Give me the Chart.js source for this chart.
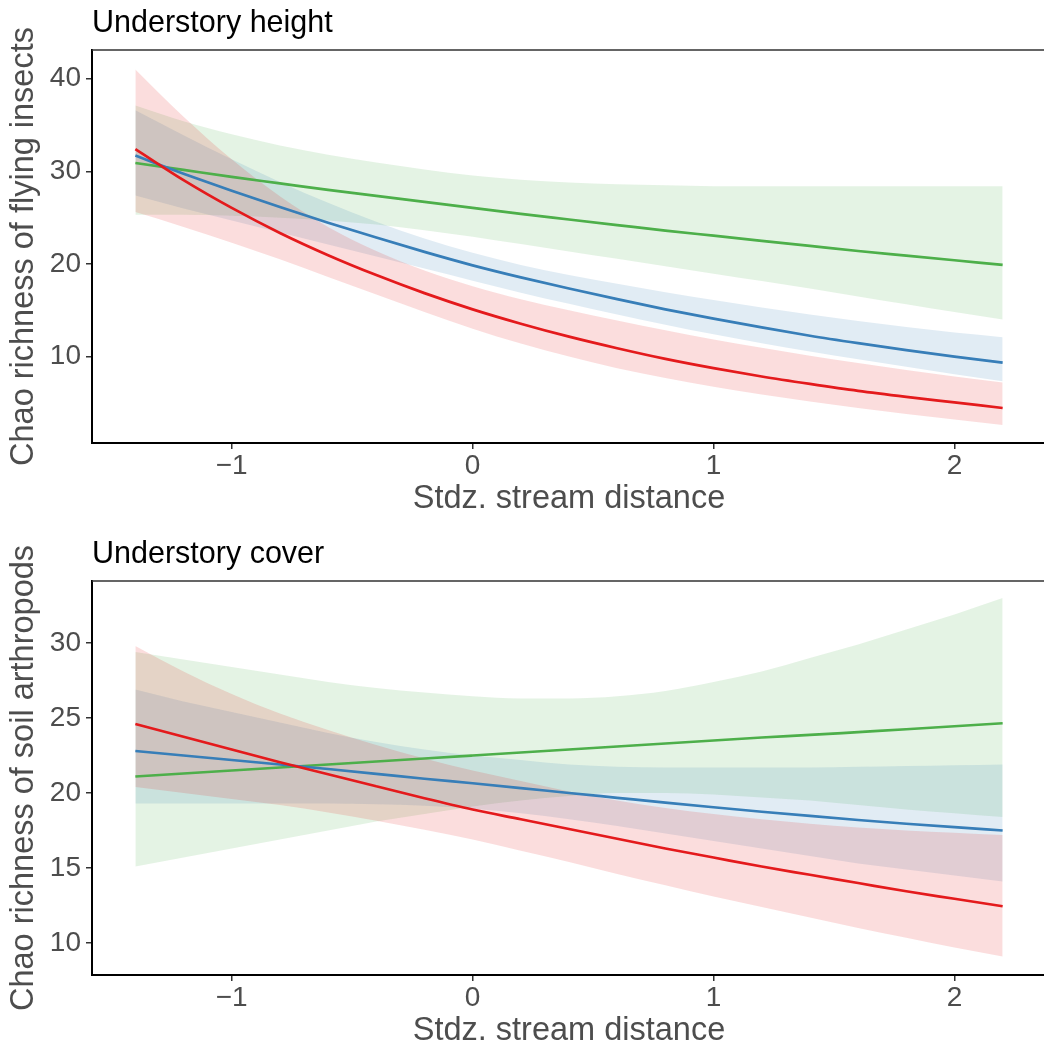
<!DOCTYPE html>
<html><head><meta charset="utf-8">
<script src="https://cdn.jsdelivr.net/npm/chart.js@4.4.1/dist/chart.umd.min.js"></script>
<style>
html,body{margin:0;padding:0;background:#fff;overflow:hidden;width:1044px;height:1052px;position:relative;}
#c1{position:absolute;left:0;top:0;}
#c2{position:absolute;left:0;top:530px;}
</style></head><body>
<canvas id="c1" width="1050" height="520"></canvas>
<canvas id="c2" width="1050" height="522"></canvas>
<script>
// ---- data ----
const xs = [-1.4,-1.2,-1.0,-0.8,-0.6,-0.4,-0.2,0,0.2,0.4,0.6,0.8,1.0,1.2,1.4,1.6,1.8,2.0,2.2];
const xTicks = [-1, 0, 1, 2];

// Panel 1: Understory height — flying insects
const yTicks1 = [10, 20, 30, 40];
const redMean1  = [32.4,29.05,26.05,23.35,20.95,18.8,16.85,15.1,13.55,12.15,10.9,9.75,8.75,7.85,7.05,6.3,5.65,5.05,4.45];
const redUp1    = [41.0,35.9,31.3,27.3,24.0,21.4,19.3,17.6,16.2,15.0,13.9,12.85,11.85,10.95,10.1,9.3,8.55,7.85,7.2];
const redLo1    = [25.6,24.0,22.3,20.5,18.6,16.7,14.8,13.0,11.4,10.0,8.75,7.7,6.75,5.9,5.15,4.45,3.8,3.2,2.6];
const blueMean1 = [31.7,29.75,27.9,26.15,24.45,22.85,21.3,19.85,18.55,17.35,16.2,15.1,14.1,13.15,12.25,11.45,10.7,10.0,9.35];
const blueUp1   = [36.6,33.9,31.3,28.85,26.6,24.55,22.75,21.2,19.9,18.8,17.85,16.95,16.1,15.3,14.55,13.85,13.2,12.6,12.1];
const blueLo1   = [27.4,26.0,24.7,23.4,22.1,20.8,19.5,18.2,16.9,15.7,14.55,13.45,12.4,11.45,10.55,9.7,8.9,8.1,7.35];
const greenMean1= [30.9,30.15,29.4,28.7,28.0,27.35,26.7,26.05,25.4,24.8,24.2,23.6,23.05,22.5,21.95,21.4,20.9,20.4,19.9];
const greenUp1  = [37.1,35.4,34.0,32.8,31.8,30.95,30.2,29.55,29.1,28.8,28.6,28.5,28.4,28.4,28.4,28.4,28.4,28.4,28.4];
const greenLo1  = [25.3,25.3,25.2,25.0,24.7,24.25,23.65,22.95,22.15,21.35,20.55,19.75,18.95,18.15,17.35,16.5,15.65,14.8,14.0];

// Panel 2: Understory cover — soil arthropods
const yTicks2 = [10, 15, 20, 25, 30];
const redMean2  = [24.6,23.75,22.9,22.05,21.25,20.45,19.65,18.9,18.25,17.6,16.95,16.3,15.7,15.1,14.55,14.0,13.45,12.95,12.45];
const redUp2    = [29.8,28.1,26.6,25.3,24.2,23.2,22.3,21.5,20.8,20.1,19.5,19.0,18.6,18.25,17.95,17.7,17.5,17.35,17.2];
const redLo2    = [20.4,20.0,19.6,19.2,18.7,18.15,17.55,16.9,16.15,15.4,14.6,13.85,13.1,12.4,11.7,11.0,10.35,9.7,9.1];
const blueMean2 = [22.8,22.5,22.2,21.9,21.6,21.28,20.95,20.65,20.33,20.0,19.68,19.36,19.05,18.75,18.47,18.2,17.95,17.72,17.5];
const blueUp2   = [26.9,26.1,25.4,24.7,24.0,23.4,22.9,22.5,22.2,21.9,21.75,21.7,21.7,21.7,21.7,21.75,21.8,21.85,21.9];
const blueLo2   = [19.3,19.3,19.3,19.3,19.3,19.25,19.15,18.95,18.65,18.25,17.8,17.3,16.8,16.3,15.8,15.3,14.9,14.5,14.1];
const greenMean2= [21.1,21.3,21.5,21.7,21.9,22.1,22.3,22.5,22.7,22.9,23.1,23.3,23.5,23.7,23.87,24.06,24.25,24.45,24.65];
const greenUp2  = [29.4,28.9,28.4,27.9,27.4,27.0,26.7,26.45,26.3,26.3,26.45,26.8,27.4,28.1,29.0,29.9,30.9,31.9,33.0];
const greenLo2  = [15.1,15.7,16.3,16.9,17.5,18.1,18.6,19.1,19.5,19.8,20.0,20.0,19.9,19.7,19.5,19.2,18.9,18.65,18.4];

// ---- styling ----
const FONT = '"Liberation Sans", Arial, Helvetica, sans-serif';
const COL = { red: '#E41A1C', blue: '#377EB8', green: '#4DAF4A' };
const FILL = { red: 'rgba(228,26,28,0.15)', blue: 'rgba(55,126,184,0.15)', green: 'rgba(77,175,74,0.15)' };
Chart.defaults.font.family = FONT;

const pts = arr => arr.map((v, i) => ({ x: xs[i], y: v }));

const panelTitle = {
  id: 'panelTitle',
  afterDraw(chart, args, opts) {
    const ctx = chart.ctx, a = chart.chartArea;
    ctx.save();
    ctx.strokeStyle = '#333333';
    ctx.lineWidth = 1.5;
    ctx.beginPath();
    ctx.moveTo(a.left, a.top);
    ctx.lineTo(a.right, a.top);
    ctx.lineTo(a.right, a.bottom);
    ctx.stroke();
    ctx.font = '30.5px ' + FONT;
    ctx.fillStyle = '#000000';
    ctx.textAlign = 'left';
    ctx.textBaseline = 'alphabetic';
    ctx.fillText(opts.text, a.left, a.top - opts.gap);
    ctx.restore();
  }
};

function band(up, lo, key) {
  return [
    { data: pts(up), borderColor: 'rgba(0,0,0,0)', borderWidth: 0, backgroundColor: FILL[key], fill: '+1', pointRadius: 0, cubicInterpolationMode: 'monotone', order: 2 },
    { data: pts(lo), borderColor: 'rgba(0,0,0,0)', borderWidth: 0, backgroundColor: 'rgba(0,0,0,0)', fill: false, pointRadius: 0, cubicInterpolationMode: 'monotone', order: 2 }
  ];
}
function line(vals, key) {
  return { data: pts(vals), borderColor: COL[key], borderWidth: 2.7, fill: false, pointRadius: 0, cubicInterpolationMode: 'monotone', order: 0 };
}

function makeChart(id, cfg) {
  const datasets = [
    ...band(cfg.redUp, cfg.redLo, 'red'),
    ...band(cfg.blueUp, cfg.blueLo, 'blue'),
    ...band(cfg.greenUp, cfg.greenLo, 'green'),
    line(cfg.redMean, 'red'),
    line(cfg.blueMean, 'blue'),
    line(cfg.greenMean, 'green')
  ];
  return new Chart(document.getElementById(id), {
    type: 'line',
    data: { datasets },
    plugins: [panelTitle],
    options: {
      responsive: false,
      animation: false,
      devicePixelRatio: 1,
      layout: { padding: { top: cfg.padTop, right: 4, left: 0, bottom: 0 } },
      plugins: {
        legend: { display: false },
        tooltip: { enabled: false },
        panelTitle: { text: cfg.title, gap: 18 }
      },
      scales: {
        x: {
          type: 'linear',
          min: -1.58, max: 2.38,
          afterBuildTicks: ax => { ax.ticks = xTicks.map(v => ({ value: v })); },
          afterFit: ax => { ax.height = 77; },
          grid: { drawOnChartArea: false, drawTicks: true, tickLength: 6, color: '#333333', lineWidth: 1.5 },
          border: { display: true, color: '#000000', width: 2 },
          ticks: {
            font: { size: 28, lineHeight: 1 }, color: '#4D4D4D', padding: 3,
            maxRotation: 0, autoSkip: false,
            callback: v => (v < 0 ? '\u2212' + Math.abs(v) : String(v))
          },
          title: { display: true, text: 'Stdz. stream distance', color: '#4D4D4D', font: { size: 32.5 }, padding: { top: 0, bottom: 1 } }
        },
        y: {
          type: 'linear',
          min: cfg.yMin, max: cfg.yMax,
          afterBuildTicks: ax => { ax.ticks = cfg.yTicks.map(v => ({ value: v })); },
          afterFit: ax => { ax.width = 92; },
          grid: { drawOnChartArea: false, drawTicks: true, tickLength: 6, color: '#333333', lineWidth: 1.5 },
          border: { display: true, color: '#000000', width: 2 },
          ticks: { font: { size: 28, lineHeight: 1 }, color: '#4D4D4D', padding: 5, autoSkip: false },
          title: { display: true, text: cfg.yTitle, color: '#4D4D4D', font: { size: 32.5 }, padding: { top: 5, bottom: 0 } }
        }
      }
    }
  });
}

makeChart('c1', {
  title: 'Understory height', yTitle: 'Chao richness of flying insects',
  yMin: 0.67, yMax: 43.1, yTicks: yTicks1, padTop: 50,
  redMean: redMean1, redUp: redUp1, redLo: redLo1,
  blueMean: blueMean1, blueUp: blueUp1, blueLo: blueLo1,
  greenMean: greenMean1, greenUp: greenUp1, greenLo: greenLo1
});
makeChart('c2', {
  title: 'Understory cover', yTitle: 'Chao richness of soil arthropods',
  yMin: 7.87, yMax: 34.13, yTicks: yTicks2, padTop: 51,
  redMean: redMean2, redUp: redUp2, redLo: redLo2,
  blueMean: blueMean2, blueUp: blueUp2, blueLo: blueLo2,
  greenMean: greenMean2, greenUp: greenUp2, greenLo: greenLo2
});
</script>
</body></html>
